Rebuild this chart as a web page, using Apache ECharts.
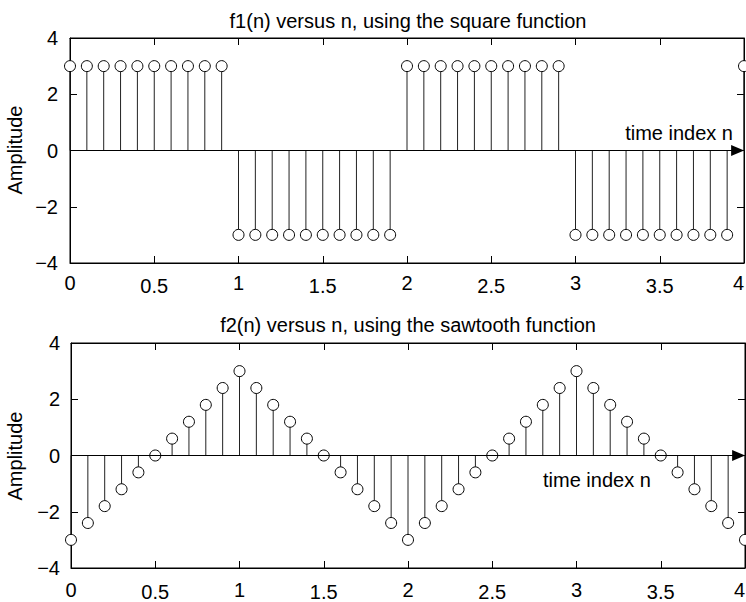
<!DOCTYPE html>
<html>
<head>
<meta charset="utf-8">
<script src="https://cdn.jsdelivr.net/npm/echarts@6/dist/echarts.min.js"></script>
<style>
html,body{margin:0;padding:0;background:#fff;}
#chart{width:746px;height:602px;}
</style>
</head>
<body>
<div id="chart"></div>
<script>
// ---- data ----
const n = [0.0,0.1,0.2,0.3,0.4,0.5,0.6,0.7,0.8,0.9,
           1.0,1.1,1.2,1.3,1.4,1.5,1.6,1.7,1.8,1.9,
           2.0,2.1,2.2,2.3,2.4,2.5,2.6,2.7,2.8,2.9,
           3.0,3.1,3.2,3.3,3.4,3.5,3.6,3.7,3.8,3.9,4.0];
const f1 = [3,3,3,3,3,3,3,3,3,3,
            -3,-3,-3,-3,-3,-3,-3,-3,-3,-3,
            3,3,3,3,3,3,3,3,3,3,
            -3,-3,-3,-3,-3,-3,-3,-3,-3,-3,3];
const f2 = [-3,-2.4,-1.8,-1.2,-0.6,0,0.6,1.2,1.8,2.4,
            3,2.4,1.8,1.2,0.6,0,-0.6,-1.2,-1.8,-2.4,
            -3,-2.4,-1.8,-1.2,-0.6,0,0.6,1.2,1.8,2.4,
            3,2.4,1.8,1.2,0.6,0,-0.6,-1.2,-1.8,-2.4,-3];
const xTickLabels = ['0','0.5','1','1.5','2','2.5','3','3.5','4'];
const yTickLabels = ['\u22124','\u22122','0','2','4'];
const titles = ['f1(n) versus n, using the square function', 'f2(n) versus n, using the sawtooth function'];
const yName = 'Amplitude';
const arrowLabel = 'time index n';

// ---- chart ----
const FONT = '"Liberation Sans", Arial, Helvetica, sans-serif';
const FS = 20;
const chart = echarts.init(document.getElementById('chart'), null, {renderer: 'svg'});

const grids = [
  {left: 70, top: 38, width: 674, height: 225},
  {left: 71, top: 343, width: 674, height: 225}
];
const xLabelMargin = [10, 12];
const halfPad = [3, 2];
const yLabelMargin = [12, 11];
const ARROW_END = 3.962; // arrow head is centred on this x so its tip meets the right frame

const xAxes = [], yAxes = [];
grids.forEach((g, gi) => {
  const tick = {show: true, inside: true, length: 7, lineStyle: {color: '#000', width: 1}};
  const line = {show: true, onZero: false, lineStyle: {color: '#000', width: 1}};
  xAxes.push({
    type: 'value', gridIndex: gi, position: 'bottom', min: 0, max: 4, interval: 0.5,
    axisLine: line, axisTick: tick, splitLine: {show: false},
    axisLabel: {
      show: true, margin: xLabelMargin[gi], color: '#000', fontFamily: FONT, fontSize: FS,
      alignMinLabel: 'center', alignMaxLabel: 'right', showMinLabel: true, showMaxLabel: true,
      hideOverlap: false,
      formatter: function (v) {
        const idx = Math.round(v / 0.5);
        const t = xTickLabels[idx];
        return (idx % 2 === 0) ? '{a|' + t + '}' : '{b|' + t + '}';
      },
      rich: {
        a: {color: '#000', fontFamily: FONT, fontSize: FS},
        b: {color: '#000', fontFamily: FONT, fontSize: FS, padding: [halfPad[gi], 0, 0, 0]}
      }
    }
  });
  xAxes.push({
    type: 'value', gridIndex: gi, position: 'top', min: 0, max: 4, interval: 0.5,
    axisLine: line, axisTick: tick, splitLine: {show: false}, axisLabel: {show: false}
  });
  yAxes.push({
    type: 'value', gridIndex: gi, position: 'left', min: -4, max: 4, interval: 2,
    axisLine: line, axisTick: tick, splitLine: {show: false},
    axisLabel: {
      show: true, margin: yLabelMargin[gi], color: '#000', fontFamily: FONT, fontSize: FS,
      formatter: function (v) { return yTickLabels[Math.round((v + 4) / 2)]; }
    }
  });
  yAxes.push({
    type: 'value', gridIndex: gi, position: 'right', min: -4, max: 4, interval: 2,
    axisLine: line, axisTick: tick, splitLine: {show: false}, axisLabel: {show: false}
  });
});

function stemSeries(values, gi) {
  return {
    type: 'custom', xAxisIndex: gi * 2, yAxisIndex: gi * 2, z: 2, silent: true, clip: false,
    data: n.map((x, i) => [x, values[i]]),
    renderItem: function (params, api) {
      const p0 = api.coord([api.value(0), 0]);
      const p1 = api.coord([api.value(0), api.value(1)]);
      return {type: 'line', shape: {x1: p0[0], y1: p0[1], x2: p1[0], y2: p1[1]},
              style: {stroke: '#222', lineWidth: 1}};
    },
    markLine: {
      silent: true, animation: false,
      symbol: ['none', 'triangle'], symbolSize: [11, 13],
      lineStyle: {color: '#000', type: 'solid', width: 1},
      label: {show: false},
      data: [[{coord: [0, 0]}, {coord: [ARROW_END, 0]}]]
    }
  };
}
function markerSeries(values, gi) {
  return {
    type: 'custom', xAxisIndex: gi * 2, yAxisIndex: gi * 2, z: 3, silent: true, clip: false,
    data: n.map((x, i) => [x, values[i]]),
    renderItem: function (params, api) {
      const p = api.coord([api.value(0), api.value(1)]);
      return {type: 'circle', shape: {cx: p[0], cy: p[1], r: 5.5},
              style: {fill: '#fff', stroke: '#000', lineWidth: 1}};
    }
  };
}

function txt(text, x, y, align, vAlign, rot) {
  return {
    type: 'text', x: x, y: y, rotation: rot || 0, silent: true,
    style: {text: text, fill: '#000', font: FS + 'px ' + FONT,
            align: align, textAlign: align, verticalAlign: vAlign, textVerticalAlign: vAlign}
  };
}

chart.setOption({
  animation: false,
  backgroundColor: '#fff',
  grid: grids.map(g => Object.assign({show: true, borderColor: '#000', borderWidth: 1, backgroundColor: 'transparent', outerBoundsMode: 'none', containLabel: false}, g)),
  xAxis: xAxes,
  yAxis: yAxes,
  series: [stemSeries(f1, 0), markerSeries(f1, 0), stemSeries(f2, 1), markerSeries(f2, 1)],
  graphic: [
    txt(titles[0], 408, 21, 'center', 'middle'),
    txt(titles[1], 408, 325, 'center', 'middle'),
    txt(yName, 15, 150, 'center', 'middle', Math.PI / 2),
    txt(yName, 15, 456, 'center', 'middle', Math.PI / 2),
    txt(arrowLabel, 733, 133, 'right', 'middle'),
    txt(arrowLabel, 543, 480, 'left', 'middle')
  ]
});
</script>
</body>
</html>
